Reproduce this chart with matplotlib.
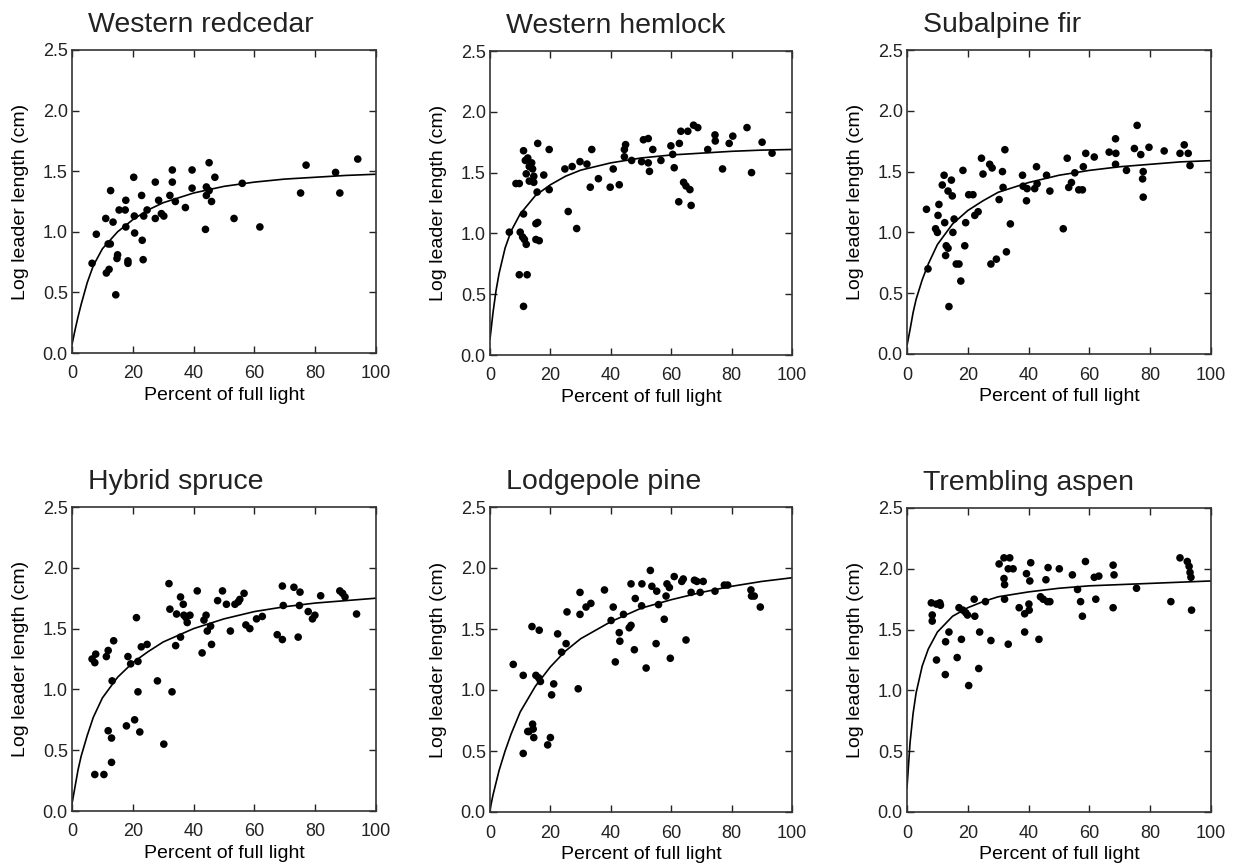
import matplotlib
matplotlib.use('Agg')
import matplotlib.pyplot as plt

plt.rcParams['font.family'] = ['Liberation Sans', 'DejaVu Sans']

species = ['Western redcedar', 'Western hemlock', 'Subalpine fir',
           'Hybrid spruce', 'Lodgepole pine', 'Trembling aspen']

# observed points (percent of full light, log leader length)
redcedar_x = [6.6, 8.0, 11.1, 11.3, 12.2, 11.9, 12.6, 12.7, 13.5, 14.4, 14.8, 15.0, 15.5, 17.5,
              17.7, 17.7, 18.4, 18.4, 20.3, 20.5, 20.6, 22.9, 23.1, 23.4, 23.6, 24.7, 27.4, 27.4,
              28.5, 29.4, 30.2, 32.2, 33.0, 33.0, 34.0, 37.3, 39.5, 39.5, 43.9, 44.2, 44.2, 45.1,
              45.1, 45.9, 47.0, 53.3, 56.0, 61.8, 75.2, 77.0, 86.7, 88.1, 94.0]
redcedar_y = [0.74, 0.98, 1.11, 0.66, 0.69, 0.90, 0.90, 1.34, 1.08, 0.48, 0.78, 0.81, 1.18, 1.18,
              1.26, 1.04, 0.76, 0.74, 1.45, 1.13, 0.99, 1.30, 0.93, 0.77, 1.13, 1.18, 1.41, 1.11,
              1.26, 1.15, 1.13, 1.30, 1.51, 1.41, 1.25, 1.20, 1.51, 1.36, 1.02, 1.37, 1.30, 1.57,
              1.34, 1.25, 1.45, 1.11, 1.40, 1.04, 1.32, 1.55, 1.49, 1.32, 1.60]

hemlock_x = [6.4, 8.6, 9.7, 10.0, 11.1, 11.1, 10.8, 11.4, 12.0, 9.7, 12.3, 11.1, 11.7, 12.5,
             13.0, 13.8, 14.1, 14.5, 12.0, 13.0, 14.5, 15.2, 15.8, 15.2, 16.3, 15.8, 15.6, 17.8,
             19.6, 19.6, 24.8, 25.9, 27.2, 28.7, 29.8, 32.1, 33.2, 33.7, 35.9, 39.8, 40.8, 42.8,
             44.5, 44.9, 44.5, 46.9, 50.2, 50.8, 52.4, 52.4, 52.8, 53.9, 56.6, 59.9, 60.5, 61.0,
             62.7, 62.5, 63.2, 64.1, 64.9, 65.5, 66.2, 66.6, 67.4, 68.8, 72.1, 74.5, 74.6, 77.0,
             79.2, 80.4, 85.1, 86.6, 90.1, 93.4]
hemlock_y = [1.01, 1.41, 1.41, 1.01, 1.68, 1.16, 0.97, 0.95, 0.91, 0.66, 0.66, 0.40, 1.60, 1.62,
             1.55, 1.58, 1.53, 1.47, 1.49, 1.43, 1.42, 1.08, 1.09, 0.95, 0.94, 1.74, 1.34, 1.48,
             1.69, 1.36, 1.53, 1.18, 1.55, 1.04, 1.59, 1.57, 1.38, 1.69, 1.45, 1.38, 1.53, 1.40,
             1.69, 1.73, 1.63, 1.60, 1.59, 1.77, 1.78, 1.58, 1.51, 1.69, 1.60, 1.72, 1.65, 1.54,
             1.74, 1.26, 1.84, 1.42, 1.39, 1.84, 1.36, 1.23, 1.89, 1.87, 1.69, 1.81, 1.76, 1.53,
             1.74, 1.80, 1.87, 1.50, 1.75, 1.66]

fir_x = [6.4, 6.9, 9.4, 10.0, 10.2, 10.5, 11.6, 12.2, 12.4, 12.7, 12.9, 13.5, 13.5, 13.8, 14.6,
         14.9, 15.1, 15.5, 16.2, 17.1, 17.7, 18.4, 19.0, 19.3, 20.3, 21.7, 22.3, 23.4, 24.5, 25.0,
         27.2, 28.0, 27.6, 29.4, 30.3, 31.4, 31.6, 32.2, 32.7, 34.0, 38.0, 38.2, 39.3, 39.5, 42.0,
         42.6, 42.8, 45.9, 47.0, 51.4, 52.7, 53.2, 54.1, 55.2, 56.5, 57.7, 58.0, 58.8, 61.6, 66.5,
         68.6, 68.7, 68.6, 72.2, 74.8, 75.7, 76.9, 77.7, 77.5, 77.7, 79.6, 84.6, 89.8, 91.2, 92.5,
         93.1]
fir_y = [1.19, 0.70, 1.03, 1.00, 1.14, 1.23, 1.39, 1.47, 1.08, 0.81, 0.89, 0.87, 1.34, 0.39, 1.43,
         1.30, 1.00, 1.11, 0.74, 0.74, 0.60, 1.51, 0.89, 1.08, 1.31, 1.31, 1.14, 1.17, 1.61, 1.48,
         1.56, 1.53, 0.74, 0.78, 1.27, 1.50, 1.37, 1.68, 0.84, 1.07, 1.47, 1.38, 1.26, 1.36, 1.36,
         1.54, 1.40, 1.47, 1.34, 1.03, 1.61, 1.37, 1.41, 1.49, 1.35, 1.35, 1.54, 1.65, 1.62, 1.66,
         1.77, 1.65, 1.56, 1.51, 1.69, 1.88, 1.64, 1.50, 1.44, 1.29, 1.70, 1.67, 1.65, 1.72, 1.65,
         1.55]

spruce_x = [6.6, 7.5, 7.8, 7.5, 10.5, 11.3, 11.9, 11.9, 13.0, 13.0, 13.2, 13.7, 17.9, 18.4, 19.3,
            20.6, 21.2, 21.7, 21.7, 22.3, 22.8, 24.7, 28.1, 30.2, 31.9, 32.2, 32.9, 34.1, 34.4,
            35.7, 35.7, 36.6, 36.8, 37.5, 37.9, 38.8, 41.2, 42.8, 43.4, 44.1, 44.5, 45.6, 45.9,
            47.9, 49.5, 50.8, 52.1, 53.6, 54.7, 55.2, 56.6, 57.2, 58.5, 60.7, 62.6, 67.5, 69.2,
            69.2, 69.5, 73.0, 74.4, 74.8, 75.0, 77.7, 79.1, 79.9, 81.8, 88.1, 89.0, 89.8, 93.6]
spruce_y = [1.25, 1.22, 1.29, 0.30, 0.30, 1.27, 1.32, 0.66, 0.60, 0.40, 1.07, 1.40, 0.70, 1.27, 1.21,
            0.75, 1.59, 1.23, 0.98, 0.65, 1.35, 1.37, 1.07, 0.55, 1.87, 1.66, 0.98, 1.36, 1.62,
            1.76, 1.43, 1.70, 1.61, 1.59, 1.55, 1.61, 1.81, 1.30, 1.57, 1.61, 1.48, 1.52, 1.37,
            1.73, 1.81, 1.70, 1.48, 1.70, 1.72, 1.74, 1.79, 1.53, 1.50, 1.58, 1.60, 1.45, 1.41,
            1.85, 1.69, 1.84, 1.43, 1.69, 1.80, 1.64, 1.58, 1.61, 1.77, 1.81, 1.79, 1.76, 1.62]

pine_x = [7.7, 11.0, 11.0, 12.5, 12.9, 13.9, 14.1, 14.3, 14.5, 15.2, 16.1, 16.3, 16.7, 19.1, 20.0,
          20.4, 21.1, 22.4, 23.7, 25.2, 25.5, 29.2, 29.8, 29.8, 31.8, 33.4, 37.9, 40.1, 40.8, 41.5,
          42.8, 43.0, 44.2, 46.1, 46.7, 46.7, 47.8, 48.1, 50.2, 50.3, 51.7, 53.1, 53.6, 55.0, 55.2,
          55.8, 57.7, 58.3, 58.6, 59.4, 59.7, 61.0, 63.5, 64.0, 64.9, 66.6, 67.7, 68.5, 69.6, 70.6,
          74.5, 77.6, 78.7, 86.4, 86.6, 87.5, 89.5]
pine_y = [1.21, 1.12, 0.48, 0.66, 0.66, 1.52, 0.72, 0.68, 0.61, 1.12, 1.10, 1.49, 1.07, 0.55, 0.61,
          0.96, 1.05, 1.46, 1.31, 1.38, 1.64, 1.01, 1.80, 1.62, 1.68, 1.71, 1.82, 1.57, 1.68, 1.23,
          1.47, 1.40, 1.62, 1.51, 1.53, 1.87, 1.33, 1.75, 1.69, 1.87, 1.18, 1.98, 1.85, 1.38, 1.81,
          1.70, 1.58, 1.77, 1.87, 1.84, 1.26, 1.93, 1.89, 1.91, 1.41, 1.80, 1.90, 1.89, 1.80, 1.89,
          1.81, 1.86, 1.86, 1.82, 1.77, 1.77, 1.68]

aspen_x = [8.0, 8.3, 8.3, 9.7, 10.8, 11.0, 9.7, 12.7, 12.6, 13.8, 16.5, 17.1, 17.9, 18.4, 19.3,
           19.9, 20.3, 22.1, 22.3, 23.6, 23.9, 25.8, 27.6, 30.3, 31.9, 33.8, 31.9, 32.1, 32.1, 33.3,
           34.9, 33.3, 36.9, 38.7, 39.3, 40.1, 40.2, 40.4, 40.7, 38.7, 43.4, 43.9, 44.8, 45.7, 46.2,
           46.4, 47.0, 50.1, 54.4, 56.1, 57.1, 57.7, 58.7, 61.6, 63.1, 62.1, 67.8, 68.1, 67.8, 75.5,
           86.8, 89.8, 92.2, 92.8, 93.1, 93.4, 93.6]
aspen_y = [1.72, 1.62, 1.57, 1.71, 1.72, 1.70, 1.25, 1.40, 1.13, 1.48, 1.27, 1.68, 1.42, 1.66, 1.64,
           1.62, 1.04, 1.75, 1.61, 1.18, 1.48, 1.73, 1.41, 2.04, 2.09, 2.09, 1.92, 1.87, 1.75, 2.00,
           2.00, 1.38, 1.68, 1.63, 1.96, 1.71, 1.66, 1.90, 2.05, 1.48, 1.42, 1.77, 1.75, 1.91, 1.73,
           2.01, 1.73, 2.00, 1.95, 1.83, 1.73, 1.61, 2.06, 1.93, 1.94, 1.75, 2.03, 1.95, 1.68, 1.84,
           1.73, 2.09, 2.06, 2.02, 1.97, 1.93, 1.66]

# fitted curves
fit_x = [0, 1, 2, 3, 5, 7, 10, 15, 20, 25, 30, 40, 50, 60, 70, 80, 90, 100]
redcedar_fit = [0.07, 0.19, 0.30, 0.40, 0.58, 0.72, 0.86, 1.00, 1.10, 1.18, 1.24, 1.32, 1.375,
                1.41, 1.435, 1.45, 1.465, 1.475]
hemlock_fit = [0.13, 0.35, 0.53, 0.67, 0.88, 1.02, 1.16, 1.31, 1.40, 1.47, 1.52, 1.58, 1.62,
               1.645, 1.66, 1.675, 1.685, 1.69]
fir_fit = [0.07, 0.20, 0.34, 0.45, 0.61, 0.74, 0.90, 1.07, 1.18, 1.26, 1.33, 1.41, 1.47, 1.51,
           1.54, 1.56, 1.58, 1.59]
spruce_fit = [0.06, 0.20, 0.34, 0.45, 0.62, 0.77, 0.93, 1.10, 1.22, 1.31, 1.39, 1.50, 1.58, 1.64,
              1.68, 1.71, 1.73, 1.75]
pine_fit = [0.02, 0.14, 0.24, 0.34, 0.50, 0.64, 0.82, 1.03, 1.19, 1.32, 1.42, 1.56, 1.67, 1.74,
            1.80, 1.85, 1.89, 1.92]
aspen_fit = [0.20, 0.57, 0.81, 0.98, 1.20, 1.34, 1.48, 1.61, 1.68, 1.73, 1.77, 1.81, 1.84, 1.86,
             1.87, 1.88, 1.89, 1.90]

xs = [redcedar_x, hemlock_x, fir_x, spruce_x, pine_x, aspen_x]
ys = [redcedar_y, hemlock_y, fir_y, spruce_y, pine_y, aspen_y]
fits = [redcedar_fit, hemlock_fit, fir_fit, spruce_fit, pine_fit, aspen_fit]

W, H = 1236, 867
# axes boxes in pixels: left, top, right, bottom
boxes = [(72, 50, 376, 353), (490, 51, 792, 355), (907, 50, 1211, 354),
         (72, 507, 376, 811), (490, 507, 792, 812), (907, 508, 1211, 812)]

fig = plt.figure(figsize=(W / 100, H / 100), dpi=100)

for i in range(6):
    l, t, r, b = boxes[i]
    ax = fig.add_axes([l / W, 1 - b / H, (r - l) / W, (b - t) / H])
    ax.scatter(xs[i], ys[i], s=30, color='black', edgecolors='none', zorder=3)
    ax.plot(fit_x, fits[i], color='black', lw=1.2, zorder=2)
    ax.set_xlim(0, 100)
    ax.set_ylim(0, 2.5)
    ax.set_xticks([0, 20, 40, 60, 80, 100])
    ax.set_yticks([0, 0.5, 1.0, 1.5, 2.0, 2.5])
    ax.set_yticklabels(['0.0', '0.5', '1.0', '1.5', '2.0', '2.5'])
    ax.tick_params(direction='in', top=True, right=True, length=5, width=1,
                   labelsize=13, colors='#222222')
    ax.tick_params(axis='x', pad=9)
    ax.tick_params(axis='y', pad=3)
    for sp in ax.spines.values():
        sp.set_linewidth(1.2)
        sp.set_color('#333333')
    ax.set_xlabel('Percent of full light', fontsize=14, labelpad=3)
    ax.set_ylabel('Log leader length (cm)', fontsize=14, labelpad=10)
    ax.text(0.053, 1.06, species[i], transform=ax.transAxes, fontsize=20.5,
            ha='left', va='baseline', color='#222222')

plt.savefig('out.png', dpi=100)
